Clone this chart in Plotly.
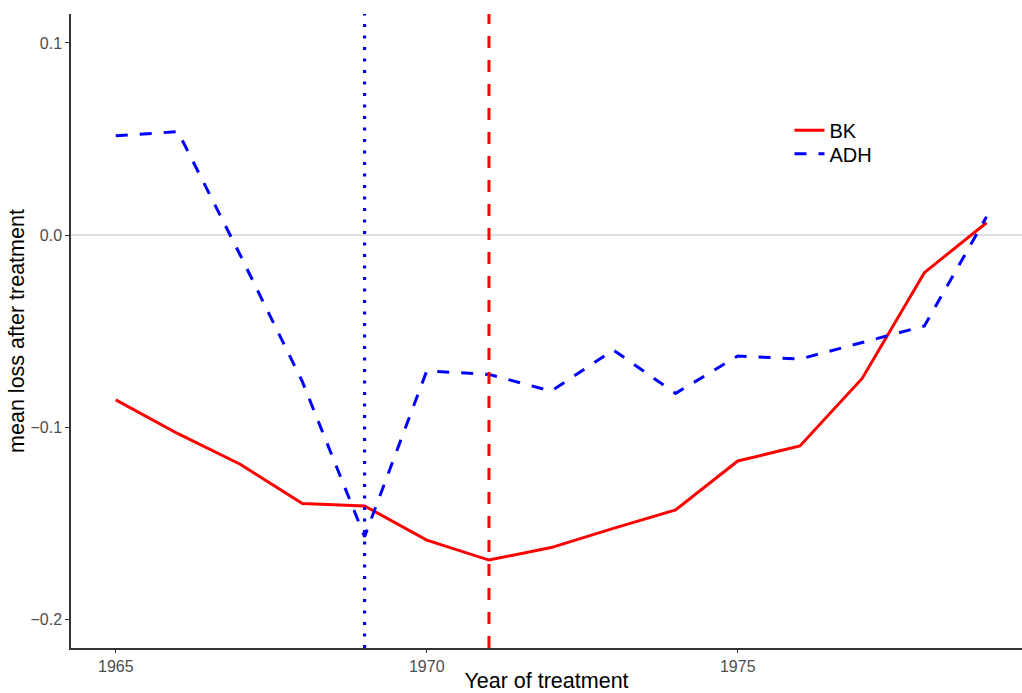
import plotly.graph_objects as go

# Year of treatment and mean post-treatment loss for each estimator
years = [1965, 1966, 1967, 1968, 1969, 1970, 1971, 1972, 1973, 1974, 1975, 1976, 1977, 1978, 1979]
bk = [-0.0859, -0.1035, -0.1194, -0.1398, -0.1411, -0.1589, -0.1693, -0.1628, -0.1528, -0.1432,
      -0.1177, -0.1099, -0.0747, -0.0196, 0.0064]
adh = [0.0517, 0.0538, -0.0104, -0.0764, -0.1571, -0.0708, -0.0726, -0.0813, -0.0599, -0.0825,
       -0.0630, -0.0646, -0.0560, -0.0474, 0.0095]

# Reference years marked with vertical lines
adh_year = 1969
bk_year = 1971

x_range = [1964.28, 1979.57]
y_range = [-0.2151, 0.1151]
x_ticks = [1965, 1970, 1975]
y_ticks = [-0.2, -0.1, 0.0, 0.1]

font_family = "Liberation Sans, Arial, Helvetica, sans-serif"

fig = go.Figure()

fig.add_trace(go.Scatter(
    x=years, y=bk, mode="lines", name="BK", legend="legend",
    line=dict(color="#ff0000", width=3),
))
fig.add_trace(go.Scatter(
    x=years, y=adh, mode="lines", name="ADH", legend="legend2",
    line=dict(color="#0000ff", width=3, dash="12px,12px"),
))

# Horizontal reference at zero
fig.add_shape(type="line", xref="paper", yref="y", x0=0, x1=1, y0=0, y1=0,
              line=dict(color="#bebebe", width=1), layer="below")
# Vertical markers
fig.add_shape(type="line", xref="x", yref="paper", x0=adh_year, x1=adh_year, y0=0, y1=1,
              line=dict(color="#0000ff", width=3.2, dash="3px,8.5px"))
fig.add_shape(type="line", xref="x", yref="paper", x0=bk_year, x1=bk_year, y0=0, y1=1,
              line=dict(color="#ff0000", width=3, dash="12px,12px"))

legend_common = dict(
    xanchor="left", yanchor="middle",
    bgcolor="rgba(0,0,0,0)", borderwidth=0,
    font=dict(size=20, color="#000000", family=font_family),
    itemwidth=30, tracegroupgap=0,
)

fig.update_layout(
    width=1022, height=693,
    margin=dict(l=71, r=0, t=14, b=45),
    plot_bgcolor="white", paper_bgcolor="white",
    font=dict(family=font_family, color="#000000"),
    showlegend=True,
    legend=dict(x=0.7555, y=0.8165, **legend_common),
    legend2=dict(x=0.7555, y=0.7795, **legend_common),
    xaxis=dict(
        range=x_range, tickmode="array", tickvals=x_ticks,
        ticktext=[str(t) for t in x_ticks],
        showgrid=False, zeroline=False,
        showline=True, linecolor="#333333", linewidth=1.5,
        ticks="outside", ticklen=3, tickcolor="#333333", tickwidth=1,
        tickfont=dict(size=16, color="#4d4d4d"),
        title=dict(text="Year of treatment", font=dict(size=21.5, color="#000000"), standoff=6),
        automargin=False,
    ),
    yaxis=dict(
        range=y_range, tickmode="array", tickvals=y_ticks,
        tickformat=".1f",
        showgrid=False, zeroline=False,
        showline=True, linecolor="#333333", linewidth=1.5,
        ticks="outside", ticklen=4, tickcolor="#333333", tickwidth=1,
        tickfont=dict(size=16, color="#4d4d4d"),
        title=dict(text="mean loss after treatment", font=dict(size=21.5, color="#000000"), standoff=0),
        automargin=False,
    ),
)

fig.write_html("out.html")
